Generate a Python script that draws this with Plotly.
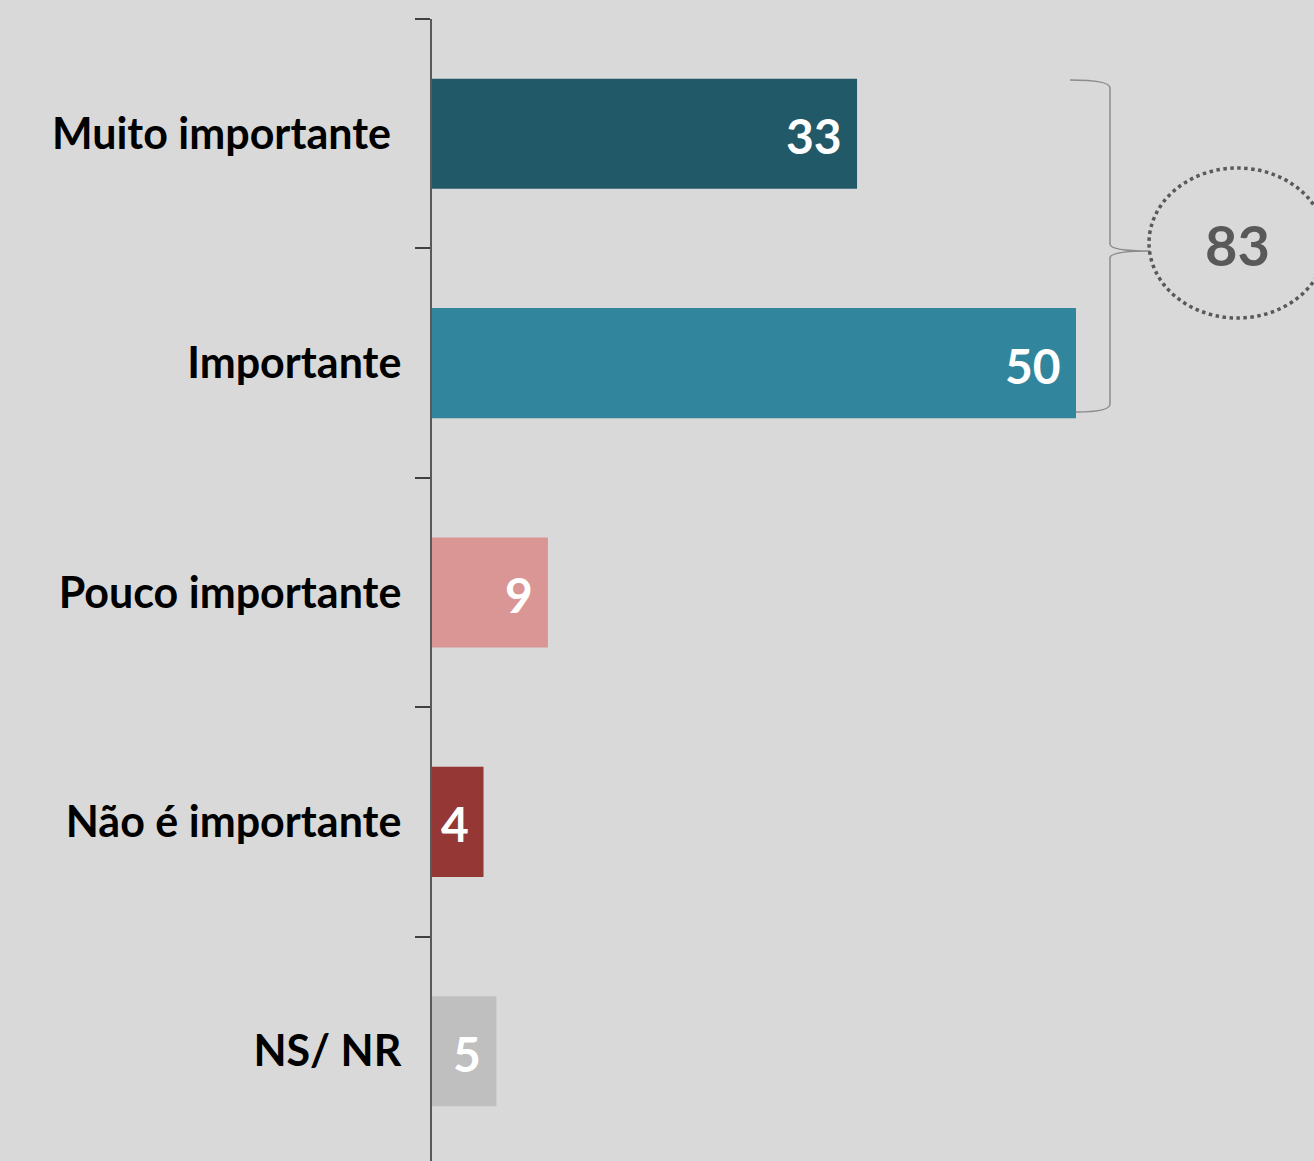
import plotly.graph_objects as go

categories = ["Muito importante\u00a0", "Importante", "Pouco importante", "Não é importante", "NS/ NR"]
values = [33, 50, 9, 4, 5]
bar_colors = ["#215968", "#31859C", "#D99694", "#953735", "#BFBFBF"]
total_label = values[0] + values[1]

W, H = 1314, 1161
ML, MR, MT, MB = 432, 0, 19, 0
PW, PH = W - ML - MR, H - MT - MB

def px(x):
    return (x - ML) / PW

def py(y):
    return 1 - (y - MT) / PH

fig = go.Figure()
fig.add_trace(go.Bar(
    y=categories, x=values, orientation="h",
    marker=dict(color=bar_colors, line=dict(width=0)),
    width=0.48, hoverinfo="skip",
))

for c, v in zip(categories, values):
    fig.add_annotation(x=v, y=c, xref="x", yref="y", text=str(v), showarrow=False,
                       xanchor="right", yanchor="middle", xshift=-13, yshift=-2,
                       font=dict(family="Lato", size=48, color="white", weight="bold"))

# brace
path = (f"M {px(1070)},{py(80)} "
        f"C {px(1095)},{py(80)} {px(1110)},{py(82)} {px(1110)},{py(88)} "
        f"L {px(1110)},{py(244)} "
        f"C {px(1110)},{py(249)} {px(1125)},{py(251)} {px(1150)},{py(251)} "
        f"C {px(1125)},{py(251)} {px(1110)},{py(253)} {px(1110)},{py(258)} "
        f"L {px(1110)},{py(404)} "
        f"C {px(1110)},{py(410)} {px(1095)},{py(412)} {px(1076)},{py(412)}")
fig.add_shape(type="path", path=path, xref="paper", yref="paper",
              line=dict(color="#8C8C8C", width=1.5))

fig.add_shape(type="circle", xref="paper", yref="paper",
              x0=px(1149), x1=px(1326), y0=py(168), y1=py(318),
              line=dict(color="#595959", width=3.5, dash="dot"))

fig.add_annotation(x=px(1237), y=py(245), xref="paper", yref="paper",
                   text=str(total_label), showarrow=False,
                   xanchor="center", yanchor="middle",
                   font=dict(family="Lato", size=56, color="#595959", weight="bold"))

fig.update_layout(
    width=W, height=H,
    margin=dict(l=ML, r=MR, t=MT, b=MB, pad=0),
    paper_bgcolor="#D9D9D9", plot_bgcolor="#D9D9D9",
    showlegend=False,
    xaxis=dict(range=[0, PW / 12.88], visible=False, fixedrange=True),
    yaxis=dict(type="category", range=[-0.5 + PH / 229.4, -0.5],
               showline=True, linecolor="#595959", linewidth=2,
               ticks="outside", tickson="boundaries", ticklen=15,
               tickcolor="#404040", tickwidth=1.5,
               showgrid=False, zeroline=False, fixedrange=True,
               ticklabelstandoff=20,
               tickfont=dict(family="Lato", size=43, color="black", weight="bold")),
)

fig.write_html("out.html", config={"displayModeBar": False},
               post_script="document.body.style.margin='0';document.body.style.overflow='hidden';")
